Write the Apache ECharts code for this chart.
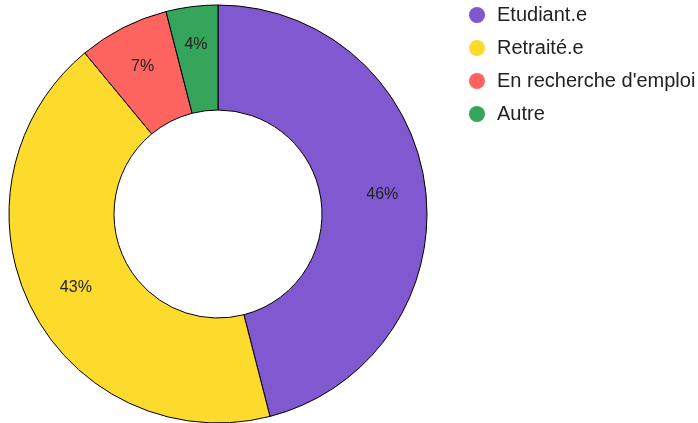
<!DOCTYPE html>
<html>
<head>
    <meta charset="utf-8">
    <title>Statut</title>
    <script src="https://cdn.jsdelivr.net/npm/echarts@6/dist/echarts.min.js"></script>
</head>
<body style="margin:0">
    <div id="main" style="width: 698px;height:423px;"></div>
    <script type="text/javascript">
var categories = ['Etudiant.e', 'Retraité.e', "En recherche d'emploi", 'Autre'];
var values = [46, 43, 7, 4];
var colors = ['#8058d0', '#fddb2d', '#fd6460', '#34a55a'];

var myChart = echarts.init(document.getElementById('main'));

// nudge labels a bit, the original puts them a little off the mid-radius
var labelOffsets = [[6, 1], [0, 1], [-3, -5], [-2, -11]];

var data = [];
for (var i = 0; i < categories.length; i++) {
    data.push({
        name: categories[i],
        value: values[i],
        itemStyle: { color: colors[i] },
        label: { offset: labelOffsets[i] }
    });
}

var option = {
    animation: false,
    textStyle: { fontFamily: 'Arial, "Liberation Sans", sans-serif' },
    legend: {
        orient: 'vertical',
        left: 464,
        top: 0,
        icon: 'circle',
        itemWidth: 16,
        itemHeight: 16,
        itemGap: 13,
        itemStyle: { borderWidth: 0 },
        textStyle: { fontSize: 20, color: '#222', padding: [0, 0, 0, 7] },
        data: categories
    },
    series: [{
        type: 'pie',
        center: [218, 214],
        radius: [104, 209],
        startAngle: 90,
        clockwise: true,
        itemStyle: { borderColor: '#000', borderWidth: 1 },
        label: {
            show: true,
            position: 'inside',
            formatter: '{d}%',
            fontSize: 16,
            color: '#222'
        },
        labelLine: { show: false },
        emphasis: { disabled: true },
        data: data
    }]
};

myChart.setOption(option);
    </script>
</body>
</html>
